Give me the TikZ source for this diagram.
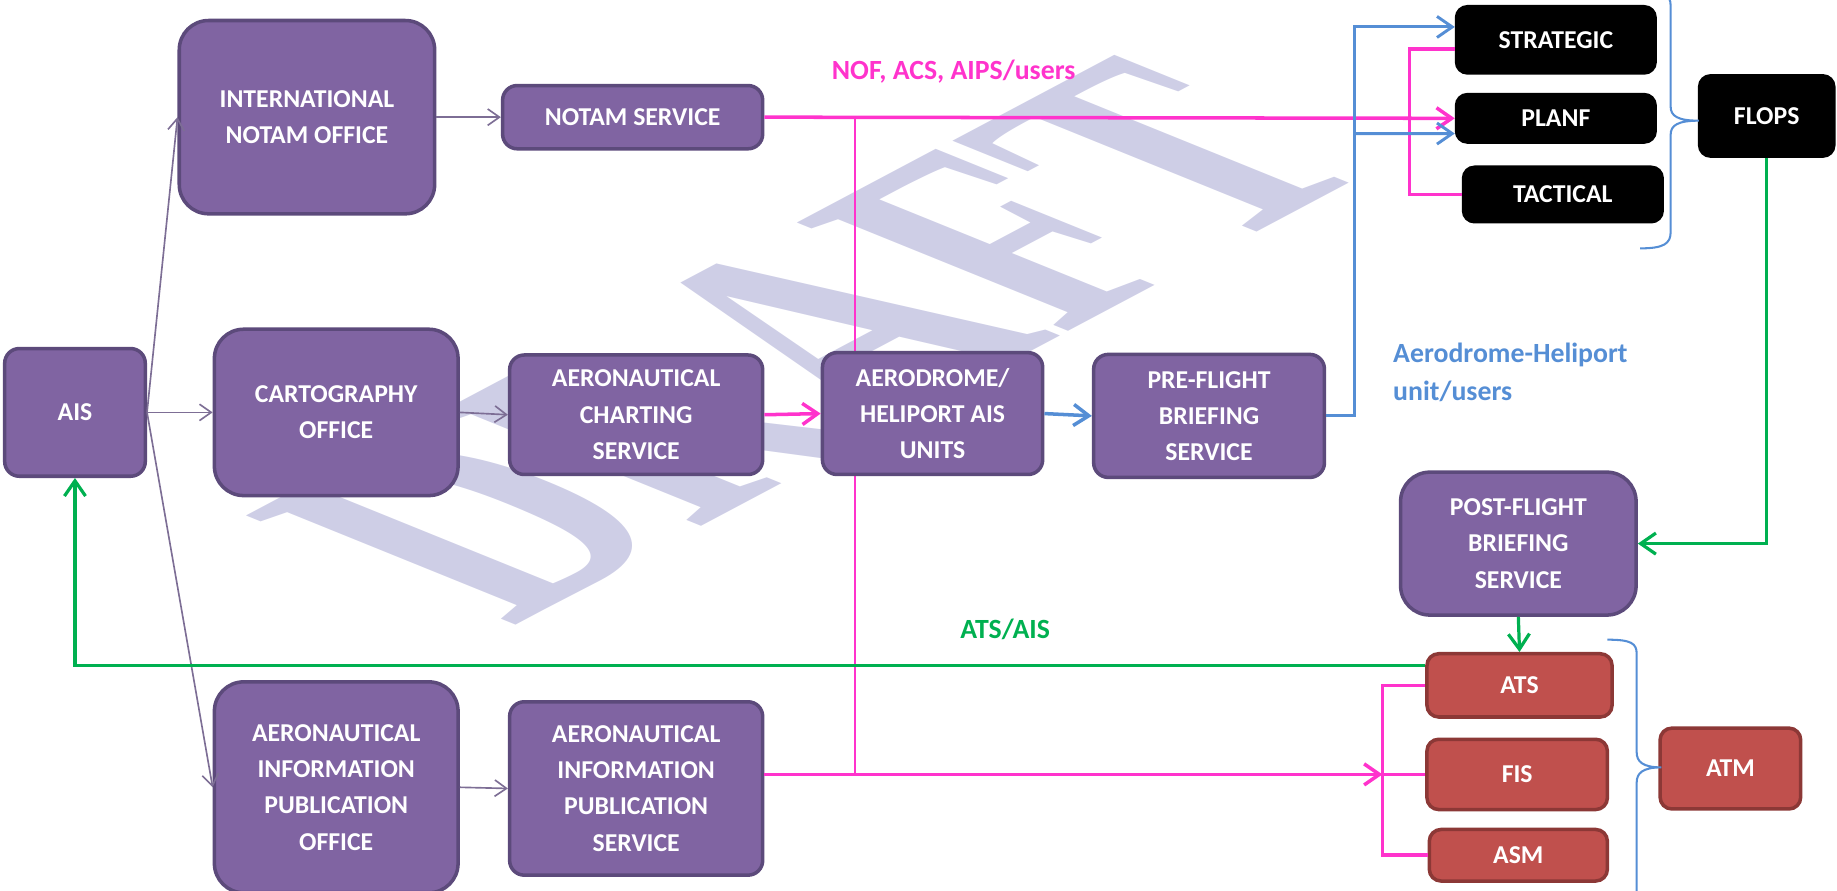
\documentclass[tikz,border=0pt]{standalone}
\usepackage{fontspec}
\setmainfont{Carlito}
\newfontfamily\draftfont{Liberation Serif}
\usetikzlibrary{arrows.meta,backgrounds}
\definecolor{boxpurple}{HTML}{8064A2}
\definecolor{edgepurple}{HTML}{5C4A7B}
\definecolor{boxred}{HTML}{C0504D}
\definecolor{edgered}{HTML}{8C3836}
\definecolor{linepink}{HTML}{FF33CC}
\definecolor{lineblue}{HTML}{558ED5}
\definecolor{linegreen}{HTML}{00B050}
\definecolor{draftgrey}{RGB}{206,206,230}
\tikzset{
  basebox/.style={draw, line width=0.6mm, rounded corners=2.5mm, text=white, align=center,
    inner sep=0pt, font=\fontsize{12.5}{17.6}\selectfont\bfseries},
  purplebox/.style={basebox, fill=boxpurple, draw=edgepurple},
  bigbox/.style={rounded corners=5mm},
  redbox/.style={basebox, fill=boxred, draw=edgered, rounded corners=2mm},
  blackbox/.style={basebox, fill=black, draw=black, line width=0.3mm, rounded corners=2mm},
  barb/.style={-{Straight Barb[length=2.6mm,width=3.6mm]}},
  thinarrow/.style={draw=edgepurple!80, line width=0.8pt, -{Straight Barb[length=2mm,width=2.8mm]}},
  pinkline/.style={draw=linepink, line width=0.6mm},
  blueline/.style={draw=lineblue, line width=0.5mm},
  greenline/.style={draw=linegreen, line width=0.55mm},
  bracebl/.style={draw=lineblue, line width=0.35mm},
  flowtext/.style={font=\fontsize{13.5}{18.2}\selectfont\bfseries}
}
\begin{document}
\begin{tikzpicture}[x=0.2mm, y=-0.2mm]
  \useasboundingbox (0,0) rectangle (1568,760);
  % AIS offices
  \node[purplebox, minimum width=24mm, minimum height=21.8mm] (ais) at (64,352) {AIS};
  \node[purplebox, bigbox, minimum width=43.6mm, minimum height=33mm] (intl) at (262,100) {INTERNATIONAL\\NOTAM OFFICE};
  \node[purplebox, bigbox, minimum width=41.6mm, minimum height=28.4mm] (carto) at (287,352) {CARTOGRAPHY\\OFFICE};
  \node[purplebox, bigbox, minimum width=41.6mm, minimum height=36mm] (aipo) at (287,672) {AERONAUTICAL\\INFORMATION\\PUBLICATION\\OFFICE};
  % Services
  \node[purplebox, minimum width=44.4mm, minimum height=10.8mm] (notam) at (540,100) {NOTAM SERVICE};
  \node[purplebox, minimum width=43.2mm, minimum height=20.4mm] (chart) at (543,354) {AERONAUTICAL\\CHARTING\\SERVICE};
  \node[purplebox, minimum width=43.2mm, minimum height=29.6mm] (aips) at (543,673) {AERONAUTICAL\\INFORMATION\\PUBLICATION\\SERVICE};
  \node[purplebox, minimum width=37.6mm, minimum height=20.8mm] (aero) at (796,353) {AERODROME/\\HELIPORT AIS\\UNITS};
  \node[purplebox, minimum width=39.4mm, minimum height=21mm] (pre) at (1032,355) {PRE-FLIGHT\\BRIEFING\\SERVICE};
  \node[purplebox, bigbox, minimum width=40.2mm, minimum height=24.4mm] (post) at (1296,464) {POST-FLIGHT\\BRIEFING\\SERVICE};
  % FLOPS
  \node[blackbox, minimum width=34.2mm, minimum height=11.6mm] (strat) at (1328,34) {STRATEGIC};
  \node[blackbox, minimum width=34.2mm, minimum height=8.4mm] (planf) at (1328,101) {PLANF};
  \node[blackbox, minimum width=34.2mm, minimum height=9.6mm] (tact) at (1334,166) {TACTICAL};
  \node[blackbox, minimum width=23.2mm, minimum height=14mm] (flops) at (1508,99) {FLOPS};
  % ATM
  \node[redbox, minimum width=31.6mm, minimum height=10.8mm] (ats) at (1297,585) {ATS};
  \node[redbox, minimum width=30.8mm, minimum height=12mm] (fis) at (1295,661) {FIS};
  \node[redbox, minimum width=30.4mm, minimum height=8.8mm] (asm) at (1296,730) {ASM};
  \node[redbox, minimum width=24mm, minimum height=13.8mm] (atm) at (1477,656) {ATM};
  % labels
  \node[flowtext, text=linepink] (noflabel) at (814,61) {NOF, ACS, AIPS/users};
  \node[flowtext, text=lineblue, align=left, anchor=west] (userlabel) at (1183,318) {Aerodrome-Heliport\\unit/users};
  \node[flowtext, text=linegreen] (atslabel) at (858,537) {ATS/AIS};
  % junctions
  \coordinate (pinktop) at (730,100);
  \coordinate (pinkbot) at (730,661);
  \coordinate (atmbus) at (1180,661);
  \coordinate (flopsbus) at (1203,101);
  \coordinate (bluebus) at (1156,114);

  \begin{scope}[on background layer]
    \node[text=draftgrey, cm={0.618,0.328,-1.0,0.405,(0,0)}, font=\fontsize{200}{200}\selectfont\draftfont\bfseries] (draft) at (695,290) {DRAFT};
    \draw[pinkline, line width=0.4mm] (pinktop) -- (pinkbot);
  \end{scope}

  % purple arrows
  \draw[thinarrow] (ais.east) -- (intl.west);
  \draw[thinarrow] (ais.east) -- (carto.west);
  \draw[thinarrow] (ais.east) -- (aipo.west);
  \draw[thinarrow] (intl.east) -- (notam.west);
  \draw[thinarrow] (carto.east) -- (chart.west);
  \draw[thinarrow] (aipo.east) -- (aips.west);
  % pink
  \draw[pinkline, barb] (notam.east) -- (planf.west);
  \draw[pinkline] ([yshift=-1.6mm]strat.west) -| (flopsbus) |- (tact.west);
  \draw[pinkline, barb] (chart.east) -- (aero.west);
  \draw[pinkline, barb] (aips.east |- atmbus) -- (atmbus);
  \draw[pinkline] (ats.west) -| (atmbus) |- (asm.west);
  \draw[pinkline] (atmbus) -- (fis.west);
  % blue
  \draw[blueline, barb, line width=0.6mm] (aero.east) -- (pre.west);
  \draw[blueline] (pre.east) -| (bluebus);
  \draw[blueline, barb] (bluebus) |- ([yshift=2.2mm]strat.west);
  \draw[blueline, barb] (bluebus) -- ([yshift=-2.6mm]planf.west);
  % green
  \draw[greenline, barb] (flops.south) |- (post.east);
  \draw[greenline, barb] (post.south) -- (ats.north);
  \draw[greenline, barb] ([yshift=3.4mm]ats.west) -| (ais.south);
  % braces
  \draw[bracebl] (1400,212) .. controls (1420,212) and (1426,208) .. (1426,198) -- (1426,115)
    .. controls (1426,107) and (1432,103) .. (1450,103) .. controls (1432,103) and (1426,99) .. (1426,91)
    -- (1426,5) .. controls (1426,-5) and (1420,-8) .. (1400,-8);
  \draw[bracebl] (1372,546) .. controls (1392,546) and (1397,549) .. (1397,558) -- (1397,642)
    .. controls (1397,650) and (1402,655) .. (1418,655) .. controls (1402,655) and (1397,660) .. (1397,668)
    -- (1397,775);
\end{tikzpicture}
\end{document}
